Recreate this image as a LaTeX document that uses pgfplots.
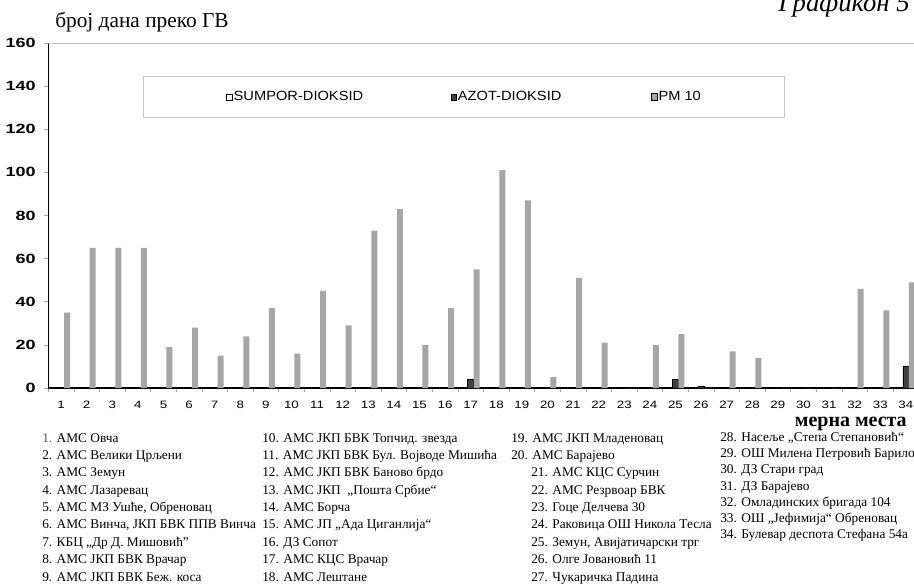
\documentclass[border=0pt]{standalone}
\usepackage{fontspec}
\setmainfont{Liberation Serif}
\newfontfamily\arial{Liberation Sans}[FakeStretch=1.1]
\newfontfamily\arialw{Liberation Sans}[FakeStretch=1.25]
\newfontfamily\arialy{Liberation Sans}[FakeStretch=1.35]
\usepackage{pgfplots}
\pgfplotsset{compat=1.18}
\definecolor{pmgray}{HTML}{A6A6A6}
\definecolor{notwodark}{HTML}{404040}
\definecolor{legframe}{HTML}{C8C8C8}
\definecolor{topgray}{HTML}{C0C0C0}
\definecolor{numblue}{HTML}{4A5A7A}
\pgfplotsset{sqleg/.style={legend image code/.code={\draw[##1] (0pt,-2.4pt) rectangle (4.2pt,2.4pt);}}}
\newcommand{\li}[3]{\node[anchor=base west,inner sep=0,font=\fontsize{10}{12}\selectfont] at (#1,#2) {#3};}
\begin{document}
\begin{tikzpicture}
\useasboundingbox (0,0) rectangle (685.5pt,-437.25pt);
\begin{axis}[
  at={(36.2pt,-291pt)}, anchor=south west,
  scale only axis, width=652.8pt, height=258.75pt,
  xmin=0.5, xmax=34.5, ymin=0, ymax=160,
  axis x line*=bottom, axis y line*=left,
  axis line style={black, line width=1pt},
  xtick={0.5,1.5,...,34.5},
  x tick label as interval,
  xticklabels={1,2,3,4,5,6,7,8,9,10,11,12,13,14,15,16,17,18,19,20,21,22,23,24,25,26,27,28,29,30,31,32,33,34},
  ytick={0,20,...,160},
  tick align=outside, major tick length=3pt,
  tick style={gray!70, line width=0.5pt},
  /pgf/number format/assume math mode=true,
  yticklabel style={font=\arialy\bfseries\fontsize{10}{11}\selectfont, xshift=-3pt},
  xticklabel style={font=\arialw\fontsize{8}{9}\selectfont, yshift=-3.5pt},
  legend style={at={(0.1091,0.9043)}, anchor=north west, draw=legframe, line width=0.75pt,
    font=\arial\fontsize{10}{12}\selectfont, inner xsep=62pt, inner ysep=10.5pt,
    nodes={inner sep=0.75pt}, /tikz/every even column/.append style={column sep=0pt}},
  legend columns=3,
]
\draw[topgray, line width=1.5pt] (rel axis cs:0,1) -- (rel axis cs:1,1);
\addplot[ybar, bar width=4.5pt, bar shift=-4.5pt, fill=white, draw=black, line width=0.5pt, sqleg] coordinates {
(1,0)(2,0)(3,0)(4,0)(5,0)(6,0)(7,0)(8,0)(9,0)(10,0)(11,0)(12,0)(13,0)(14,0)(15,0)(16,0)(17,0)
(18,0)(19,0)(20,0)(21,0)(22,0)(23,0)(24,0)(25,0)(26,0)(27,0)(28,0)(29,0)(30,0)(31,0)(32,0)(33,0)(34,0)};
\addlegendentry{\makebox[162pt][l]{SUMPOR-DIOKSID}}
\addplot[ybar, bar width=4.5pt, bar shift=0pt, fill=notwodark, draw=black, line width=0.5pt, sqleg] coordinates {
(1,0)(2,0)(3,0)(4,0)(5,0)(6,0)(7,0)(8,0)(9,0)(10,0)(11,0)(12,0)(13,0)(14,0)(15,0)(16,0)(17,4)
(18,0)(19,0)(20,0)(21,0)(22,0)(23,0)(24,0)(25,4)(26,1)(27,0)(28,0)(29,0)(30,0)(31,0)(32,0)(33,0)(34,10)};
\addlegendentry{\makebox[144pt][l]{AZOT-DIOKSID}}
\addplot[ybar, bar width=4.5pt, bar shift=4.5pt, fill=pmgray, draw=none, sqleg] coordinates {
(1,35)(2,65)(3,65)(4,65)(5,19)(6,28)(7,15)(8,24)(9,37)(10,16)(11,45)(12,29)(13,73)(14,83)(15,20)(16,37)(17,55)
(18,101)(19,87)(20,5)(21,51)(22,21)(23,0)(24,20)(25,25)(26,0)(27,17)(28,14)(29,0)(30,0)(31,0)(32,46)(33,36)(34,49)};
\addlegendentry{PM 10}
\end{axis}
\begin{scope}[x=0.75pt,y=-0.75pt]
\node[anchor=base west, inner sep=0, font=\fontsize{16}{18}\selectfont] at (55,27) {број дана преко ГВ};
\node[anchor=base west, inner sep=0, font=\itshape\fontsize{20}{21}\selectfont] at (778,11) {Графикон 5};
\node[anchor=base east, inner sep=0, font=\bfseries\fontsize{15}{17}\selectfont] at (907,426) {мерна места};
% column 1
\li{42}{442}{\textcolor{numblue}{1.} АМС Овча}
\li{42}{459.4}{2. АМС Велики Црљени}
\li{42}{476.75}{3. АМС Земун}
\li{42}{494.1}{4. АМС Лазаревац}
\li{42}{511.5}{5. АМС МЗ Ушће, Обреновац}
\li{42}{528.9}{6. АМС Винча, ЈКП БВК ППВ Винча}
\li{42}{546.25}{7. КБЦ „Др Д. Мишовић”}
\li{42}{563.6}{8. АМС ЈКП БВК Врачар}
\li{42}{581}{9. АМС ЈКП БВК Беж. коса}
% column 2
\li{262}{442}{10. АМС ЈКП БВК Топчид. звезда}
\li{262}{459.4}{11. АМС ЈКП БВК Бул. Војводе Мишића}
\li{262}{476.75}{12. АМС ЈКП БВК Баново брдо}
\li{262}{494.1}{13. АМС ЈКП \ „Пошта Србие“}
\li{262}{511.5}{14. АМС Борча}
\li{262}{528.9}{15. АМС ЈП „Ада Циганлија“}
\li{262}{546.25}{16. ДЗ Сопот}
\li{262}{563.6}{17. АМС КЦС Врачар}
\li{262}{581}{18. АМС Лештане}
% column 3
\li{511}{442}{19. АМС ЈКП Младеновац}
\li{511}{459.4}{20. АМС Барајево}
\li{531}{476.75}{21. АМС КЦС Сурчин}
\li{531}{494.1}{22. АМС Резрвоар БВК}
\li{531}{511.5}{23. Гоце Делчева 30}
\li{531}{528.9}{24. Раковица ОШ Никола Тесла}
\li{531}{546.25}{25. Земун, Авијатичарски трг}
\li{531}{563.6}{26. Олге Јовановић 11}
\li{531}{581}{27. Чукаричка Падина}
% column 4
\li{720}{441.5}{28. Насеље „Степа Степановић“}
\li{720}{457.7}{29. ОШ Милена Петровић Бариловић}
\li{720}{473.9}{30. ДЗ Стари град}
\li{720}{490.1}{31. ДЗ Барајево}
\li{720}{506.3}{32. Омладинских бригада 104}
\li{720}{522.5}{33. ОШ „Јефимија“ Обреновац}
\li{720}{538.7}{34. Булевар деспота Стефана 54а}
\end{scope}
\end{tikzpicture}
\end{document}
